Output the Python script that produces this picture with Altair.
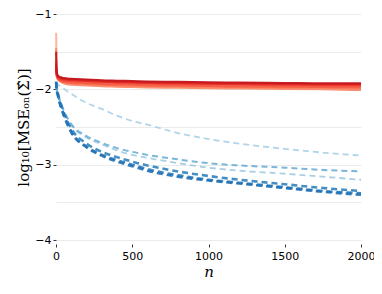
import altair as alt
import pandas as pd

n_grid = [1, 3, 6, 10, 20, 30, 50, 100, 200, 300, 400, 500, 600, 800, 1000, 1200, 1500, 1750, 2000]

red_names = ["r1", "r2", "r3", "r4", "r5", "r6", "r7", "r8"]
red_colors = ["#c4161c", "#d92522", "#e8332a", "#f04a36", "#f65d43", "#fa7253", "#fb8a68", "#fcb196"]
red_values = [
    [-1.50, -1.72, -1.78, -1.81, -1.83, -1.84, -1.85, -1.86, -1.87, -1.88, -1.885, -1.89, -1.895, -1.90, -1.905, -1.91, -1.915, -1.92, -1.92],
    [-1.65, -1.76, -1.80, -1.82, -1.84, -1.85, -1.86, -1.87, -1.88, -1.89, -1.895, -1.90, -1.905, -1.91, -1.915, -1.92, -1.925, -1.93, -1.93],
    [-1.70, -1.78, -1.81, -1.83, -1.85, -1.86, -1.87, -1.88, -1.89, -1.90, -1.905, -1.91, -1.915, -1.92, -1.925, -1.93, -1.935, -1.94, -1.94],
    [-1.72, -1.79, -1.82, -1.84, -1.86, -1.87, -1.88, -1.89, -1.90, -1.91, -1.915, -1.92, -1.925, -1.93, -1.935, -1.94, -1.945, -1.95, -1.95],
    [-1.75, -1.81, -1.84, -1.86, -1.88, -1.89, -1.90, -1.91, -1.92, -1.93, -1.935, -1.94, -1.945, -1.95, -1.955, -1.96, -1.965, -1.97, -1.97],
    [-1.60, -1.76, -1.81, -1.84, -1.87, -1.88, -1.90, -1.92, -1.93, -1.94, -1.945, -1.95, -1.955, -1.96, -1.965, -1.97, -1.975, -1.98, -1.99],
    [-1.45, -1.74, -1.80, -1.84, -1.88, -1.90, -1.92, -1.94, -1.95, -1.96, -1.965, -1.97, -1.975, -1.98, -1.985, -1.99, -1.995, -2.00, -2.01],
    [-1.25, -1.68, -1.77, -1.81, -1.84, -1.85, -1.86, -1.87, -1.88, -1.89, -1.90, -1.91, -1.915, -1.92, -1.93, -1.935, -1.94, -1.945, -1.95],
]

blue_names = ["b1", "b2", "b3", "b4", "b5", "b6"]
blue_colors = ["#a9cfe8", "#9ecae1", "#6baed6", "#3182bd", "#2b7bba", "#2171b5"]
blue_widths = [1.8, 1.8, 2.0, 2.6, 2.6, 2.6]
blue_values = [
    [-1.90, -1.91, -1.92, -1.93, -1.95, -1.96, -1.99, -2.06, -2.18, -2.26, -2.35, -2.42, -2.47, -2.58, -2.66, -2.72, -2.79, -2.84, -2.88],
    [-1.95, -1.98, -2.02, -2.05, -2.12, -2.18, -2.28, -2.47, -2.64, -2.73, -2.81, -2.87, -2.91, -2.98, -3.04, -3.08, -3.12, -3.16, -3.20],
    [-1.95, -1.98, -2.02, -2.05, -2.12, -2.18, -2.28, -2.46, -2.62, -2.71, -2.78, -2.83, -2.87, -2.93, -2.98, -3.01, -3.04, -3.07, -3.09],
    [-1.92, -1.96, -2.00, -2.03, -2.12, -2.18, -2.30, -2.52, -2.72, -2.83, -2.90, -2.96, -3.01, -3.09, -3.15, -3.20, -3.26, -3.31, -3.35],
    [-1.90, -1.97, -2.02, -2.05, -2.14, -2.21, -2.33, -2.56, -2.76, -2.87, -2.94, -3.00, -3.06, -3.14, -3.20, -3.24, -3.30, -3.35, -3.38],
    [-1.90, -1.98, -2.03, -2.06, -2.15, -2.22, -2.34, -2.57, -2.77, -2.88, -2.96, -3.02, -3.08, -3.16, -3.21, -3.25, -3.31, -3.36, -3.40],
]

x_tick_values = [0, 500, 1000, 1500, 2000]
y_tick_values = [-4, -3.5, -3, -2.5, -2, -1.5, -1]

rows = []
# lighter red series first so the darker ones are drawn on top
for name, vals in reversed(list(zip(red_names, red_values))):
    for n, v in zip(n_grid, vals):
        rows.append({"series": name, "n": n, "v": v, "kind": "red", "w": 2.0})
for name, vals, w in zip(blue_names, blue_values, blue_widths):
    for n, v in zip(n_grid, vals):
        rows.append({"series": name, "n": n, "v": v, "kind": "blue", "w": w})
df = pd.DataFrame(rows)

color_scale = alt.Scale(domain=red_names + blue_names, range=red_colors + blue_colors)
x_enc = alt.X(
    "n:Q",
    scale=alt.Scale(domain=[0, 2000], nice=False),
    axis=alt.Axis(
        values=x_tick_values, format="d", title="n", grid=False, domain=False,
        labelFlush=False, offset=4, tickSize=3, tickColor="#333333",
        labelFontSize=11, labelColor="#000000",
        labelFont="DejaVu Sans", titleFont="DejaVu Serif", titleFontStyle="italic",
        titleFontWeight="normal", titleFontSize=15, titlePadding=3, labelPadding=3,
    ),
)
y_enc = alt.Y(
    "v:Q",
    scale=alt.Scale(domain=[-4, -1], nice=False),
    axis=alt.Axis(
        values=y_tick_values,
        labelExpr="datum.value % 1 == 0 ? format(datum.value, 'd') : ''",
        tickOpacity={"condition": {"test": "datum.value % 1 != 0", "value": 0}, "value": 1},
        title="log₁₀[MSEₒₙ(Σ̂)]", grid=True, gridColor="#ebebeb", gridWidth=1,
        labelFlush=False, domain=False, tickSize=3, tickColor="#333333", labelFontSize=11,
        labelColor="#000000", labelFont="DejaVu Sans", labelPadding=2,
        titleFont="DejaVu Serif", titleFontWeight="normal", titleFontSize=15,
        titlePadding=3,
    ),
)

reds = alt.Chart(df).transform_filter(alt.datum.kind == "red").mark_line(
    interpolate="monotone", opacity=0.95
).encode(
    x=x_enc, y=y_enc,
    color=alt.Color("series:N", scale=color_scale, legend=None),
    strokeWidth=alt.StrokeWidth("w:Q", scale=None),
)
blues = alt.Chart(df).transform_filter(alt.datum.kind == "blue").mark_line(
    interpolate="monotone", strokeDash=[6, 4], opacity=0.9
).encode(
    x=x_enc, y=y_enc,
    color=alt.Color("series:N", scale=color_scale, legend=None),
    strokeWidth=alt.StrokeWidth("w:Q", scale=None),
)

chart = alt.layer(blues, reds).properties(
    width=305, height=226, autosize="none",
    padding={"left": 48, "top": 6, "right": 13, "bottom": 46},
).configure_view(stroke=None)

chart.save("out.html", embed_options={"renderer": "svg", "actions": False})
